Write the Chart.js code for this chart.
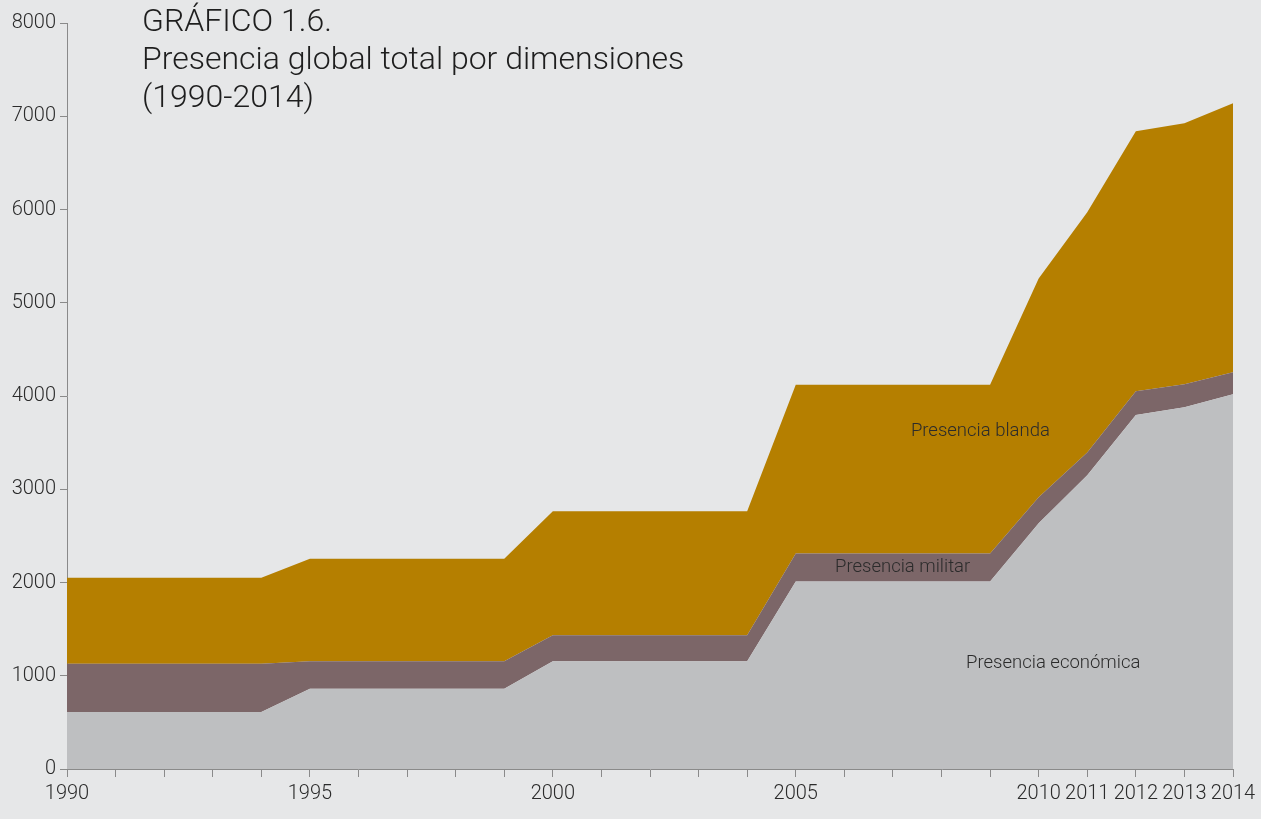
<!DOCTYPE html>
<html>
<head>
<meta charset="utf-8">
<script src="https://cdn.jsdelivr.net/npm/chart.js@4/dist/chart.umd.min.js"></script>
<style>
  html, body { margin: 0; padding: 0; background: #e6e7e8; }
  #wrap { position: relative; width: 1261px; height: 819px; }
  #title {
    position: absolute; left: 142px; top: 1px;
    font-family: Roboto, sans-serif; font-weight: 300;
    font-size: 32px; line-height: 38px; color: #1e1e1e;
  }
</style>
</head>
<body>
<div id="wrap">
  <canvas id="chart" width="1261" height="819"></canvas>
  <div id="title">GRÁFICO 1.6.<br>Presencia global total por dimensiones<br>(1990-2014)</div>
</div>
<script>
const years = [1990, 1991, 1992, 1993, 1994, 1995, 1996, 1997, 1998, 1999, 2000, 2001, 2002,
  2003, 2004, 2005, 2006, 2007, 2008, 2009, 2010, 2011, 2012, 2013, 2014]
const economica = [610, 610, 610, 610, 610, 860, 860, 860, 860, 860, 1155, 1155, 1155,
  1155, 1155, 2010, 2010, 2010, 2010, 2010, 2635, 3150, 3795, 3880, 4020]
const militar = [520, 520, 520, 520, 520, 295, 295, 295, 295, 295, 280, 280, 280,
  280, 280, 300, 300, 300, 300, 300, 280, 245, 255, 245, 235]
const blanda = [920, 920, 920, 920, 920, 1100, 1100, 1100, 1100, 1100, 1330, 1330, 1330,
  1330, 1330, 1810, 1810, 1810, 1810, 1810, 2345, 2575, 2790, 2800, 2885]
const labelYears = [1990, 1995, 2000, 2005, 2010, 2011, 2012, 2013, 2014]

// area labels, placed in data units
const areaLabels = [
  { text: 'Presencia blanda', x: 2008.8, y: 3625 },
  { text: 'Presencia militar', x: 2007.2, y: 2166 },
  { text: 'Presencia económica', x: 2010.3, y: 1137 }
]

const pts = arr => years.map((y, i) => ({ x: y, y: arr[i] }))

const areaText = {
  id: 'areaText',
  afterDatasetsDraw(chart) {
    const ctx = chart.ctx
    const xs = chart.scales.x, ys = chart.scales.y
    ctx.save()
    ctx.font = '300 18.5px Roboto'
    ctx.fillStyle = '#2b2b2b'
    ctx.textAlign = 'center'
    ctx.textBaseline = 'middle'
    areaLabels.forEach(l => {
      ctx.fillText(l.text, xs.getPixelForValue(l.x), ys.getPixelForValue(l.y))
    })
    ctx.restore()
  }
}

const ds = (label, arr, color, fill) => ({
  label: label,
  data: pts(arr),
  backgroundColor: color,
  borderColor: color,
  borderWidth: 0,
  pointRadius: 0,
  tension: 0,
  fill: fill
})

Chart.defaults.font.family = 'Roboto'
Chart.defaults.font.weight = 300

new Chart(document.getElementById('chart'), {
  type: 'line',
  data: {
    datasets: [
      ds('Presencia económica', economica, '#bebfc1', 'origin'),
      ds('Presencia militar', militar, '#7c6668', '-1'),
      ds('Presencia blanda', blanda, '#b57f00', '-1')
    ]
  },
  options: {
    responsive: false,
    animation: false,
    layout: { padding: { top: 23, right: 28, left: 0, bottom: 0 } },
    plugins: { legend: { display: false }, tooltip: { enabled: false } },
    scales: {
      x: {
        type: 'linear',
        min: 1990, max: 2014,
        afterBuildTicks: axis => { axis.ticks = years.map(v => ({ value: v })) },
        ticks: {
          autoSkip: false, maxRotation: 0,
          color: '#2b2b2b', font: { size: 20 }, padding: 5,
          callback: v => labelYears.includes(v) ? String(v) : ''
        },
        grid: { drawOnChartArea: false, tickLength: 8, color: '#8a8a8a' },
        border: { color: '#8a8a8a' },
        afterFit: axis => { axis.height = 50 }
      },
      y: {
        stacked: true,
        min: 0, max: 8000,
        ticks: { stepSize: 1000, color: '#2b2b2b', font: { size: 20 }, padding: 4,
          callback: v => String(v) },
        grid: { drawOnChartArea: false, tickLength: 7, color: '#8a8a8a' },
        border: { color: '#8a8a8a' },
        afterFit: axis => { axis.width = 67 }
      }
    }
  },
  plugins: [areaText]
})
</script>
</body>
</html>
